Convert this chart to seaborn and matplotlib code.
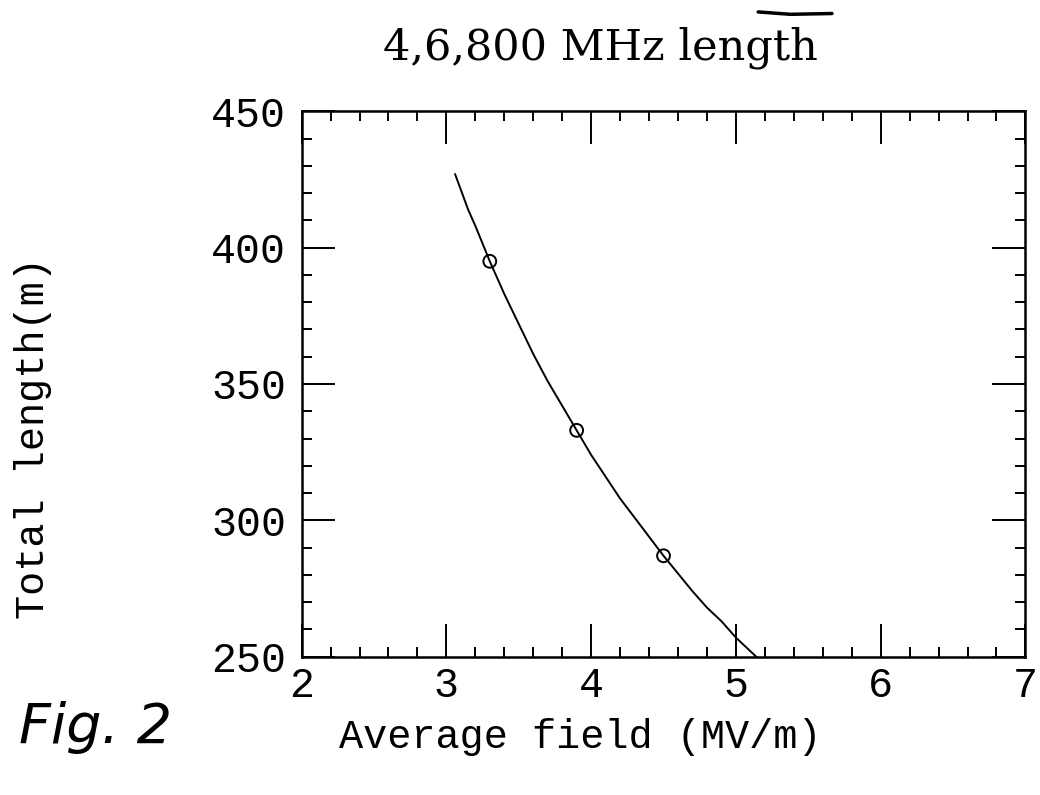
import numpy as np
import pandas as pd
import matplotlib
matplotlib.use("Agg")
import matplotlib.pyplot as plt
import seaborn as sns
from matplotlib.ticker import MultipleLocator
from matplotlib.lines import Line2D

# ---- data ----
point_field = [3.3, 3.9, 4.5]          # MV/m
point_length = [395, 333, 287]         # m

curve_field = [3.06, 3.15, 3.2, 3.3, 3.4, 3.5, 3.6, 3.7, 3.8, 3.9, 4.0, 4.1,
               4.2, 4.3, 4.4, 4.5, 4.6, 4.7, 4.8, 4.9, 5.0, 5.1, 5.2]
curve_length = [427, 414, 408, 395, 383, 372, 361, 351, 342, 333, 324, 316,
                308, 301, 294, 287, 280.5, 274, 268, 263, 257, 252, 247]

x_ticks = [2, 3, 4, 5, 6, 7]
y_ticks = [250, 300, 350, 400, 450]

title_text = "4,6,800 MHz length"
x_label = "Average field (MV/m)"
y_label = "Total length(m)"

curve_df = pd.DataFrame({"field": curve_field, "length": curve_length})
point_df = pd.DataFrame({"field": point_field, "length": point_length})

sns.set_theme(style="white")
plt.rcParams["font.family"] = ["Liberation Mono", "DejaVu Sans Mono"]
plt.rcParams["text.color"] = "black"
plt.rcParams["axes.labelcolor"] = "black"
plt.rcParams["xtick.color"] = "black"
plt.rcParams["ytick.color"] = "black"

fig = plt.figure(figsize=(10.4, 7.95), dpi=100)
ax = fig.add_axes([0.29, 0.174, 0.696, 0.686])

sns.lineplot(data=curve_df, x="field", y="length", ax=ax, color="black",
             linewidth=1.4, sort=True, estimator=None)
sns.scatterplot(data=point_df, x="field", y="length", ax=ax, marker="o",
                s=85, facecolor="none", edgecolor="black", linewidth=1.4, zorder=3)

ax.set_xlim(2, 7)
ax.set_ylim(250, 450)
ax.set_xticks(x_ticks)
ax.set_yticks(y_ticks)
ax.xaxis.set_minor_locator(MultipleLocator(0.2))
ax.yaxis.set_minor_locator(MultipleLocator(10))
ax.tick_params(which="both", direction="in", top=True, right=True,
               bottom=True, left=True, color="black", width=1.4)
ax.tick_params(which="major", length=23.5, labelsize=30)
ax.tick_params(axis="x", which="major", pad=7)
ax.tick_params(axis="y", which="major", pad=11)
ax.tick_params(which="minor", length=7.5)
for sp in ax.spines.values():
    sp.set_color("black")
    sp.set_linewidth(1.8)

ax.set_xlabel(x_label, fontsize=29)
ax.set_ylabel(y_label, fontsize=29)
ax.xaxis.set_label_coords(0.385, -0.112)
ax.yaxis.set_label_coords(-0.345, 0.40)
fig.text(0.577, 0.94, title_text, fontsize=31, fontfamily="DejaVu Serif",
         ha="center", va="center")

fig.text(0.018, 0.065, "Fig. 2", fontsize=40, style="italic",
         fontfamily="DejaVu Sans")
fig.add_artist(Line2D([0.729, 0.76, 0.80], [0.985, 0.982, 0.983],
                      transform=fig.transFigure, color="black", linewidth=2.5))

fig.savefig("out.png", dpi=100)
